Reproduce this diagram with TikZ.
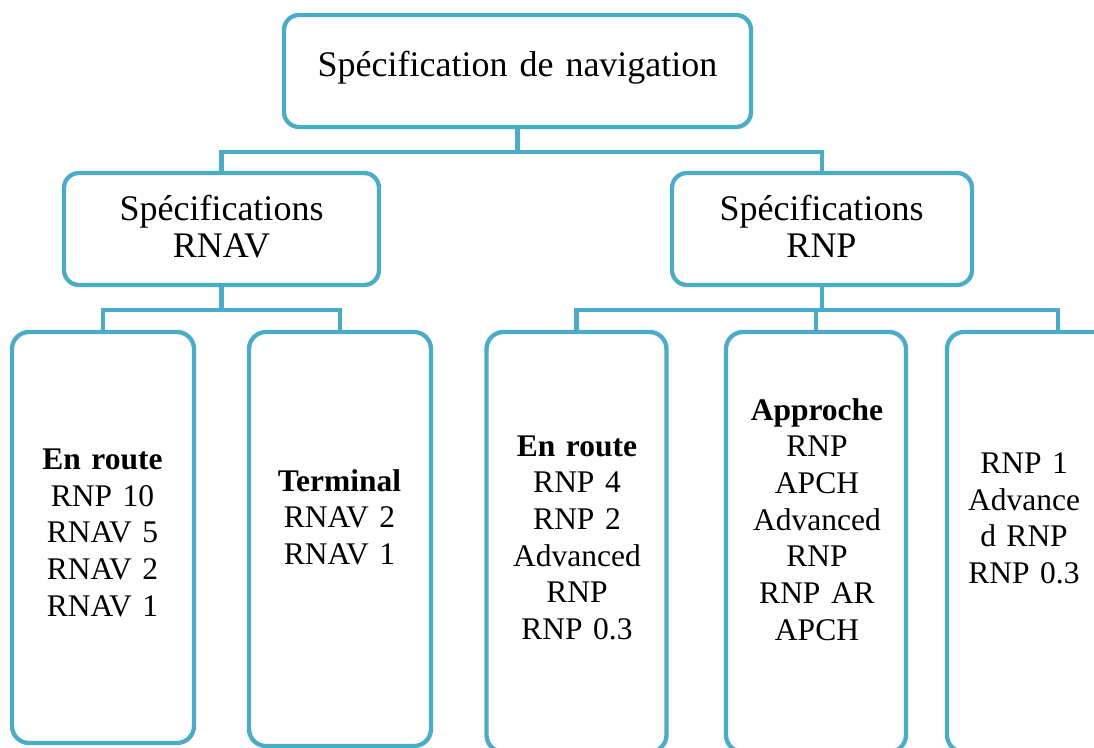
\documentclass[tikz,border=0pt]{standalone}
\usepackage{fontspec}
\setmainfont{Liberation Serif}
\definecolor{boxline}{RGB}{75,172,198}
\begin{document}
\begin{tikzpicture}[x=1pt,y=-1pt,
  box/.style={draw=boxline, line width=4.3pt, fill=white, rectangle,
    inner sep=0pt, rounded corners=15pt},
  tallbox/.style={box, rounded corners=17pt},
  conn/.style={draw=boxline, line width=4.3pt},
  headtext/.style={inner sep=0pt, anchor=base, text width=460pt, align=center,
    font=\fontsize{36}{37.7}\selectfont},
  itemtext/.style={inner sep=0pt, anchor=base, text width=170pt, align=center,
    font=\fontsize{31.5}{36.7}\selectfont}]
\useasboundingbox (0,0) rectangle (1094,747);
\clip (0,0) rectangle (1094,747);

% boxes
\node[box, minimum width=467pt, minimum height=112pt] (top) at (517.5,71) {};
\node[box, minimum width=315pt, minimum height=112pt] (rnav) at (221.5,229) {};
\node[box, minimum width=300pt, minimum height=112pt] (rnp) at (822,229) {};
\node[tallbox, minimum width=182pt, minimum height=411pt] (b1) at (103,537.5) {};
\node[tallbox, minimum width=182pt, minimum height=414pt] (b2) at (340,539) {};
\node[tallbox, minimum width=180pt, minimum height=420pt] (b3) at (576.5,542) {};
\node[tallbox, minimum width=180pt, minimum height=420pt] (b4) at (816,542) {};
\node[tallbox, minimum width=222pt, minimum height=420pt] (b5) at (1058,542) {};

% connectors
\draw[conn] (top.south) -- ++(0,23) -| (rnav.north);
\draw[conn] (top.south) -- ++(0,23) -| (rnp.north);
\draw[conn] (rnav.south) -- ++(0,23) -| (b1.north);
\draw[conn] (rnav.south) -- ++(0,23) -| (b2.north);
\draw[conn] (rnp.south) -- ++(0,23) -| (b3.north);
\draw[conn] (rnp.south) -- ++(0,23) -| (b4.north);
\draw[conn] (rnp.south) -- ++(0,23) -| (b5.north);

% texts
\node[headtext] (ttop) at (517.5,76.7) {Spécification de navigation};
\node[headtext] (trnav) at (221.5,220) {Spécifications\\RNAV};
\node[headtext] (trnp) at (821.5,220) {Spécifications\\RNP};
\node[itemtext] (t1) at (102.5,469.3) {\textbf{En route}\\RNP 10\\RNAV 5\\RNAV 2\\RNAV 1};
\node[itemtext] (t2) at (339.5,491) {\textbf{Terminal}\\RNAV 2\\RNAV 1};
\node[itemtext] (t3) at (577,456) {\textbf{En route}\\RNP 4\\RNP 2\\Advanced\\RNP\\RNP 0.3};
\node[itemtext] (t4) at (817,420) {\textbf{Approche}\\RNP\\APCH\\Advanced\\RNP\\RNP AR\\APCH};
\node[itemtext] (t5) at (1024,473.3) {RNP 1\\Advance\\d RNP\\RNP 0.3};
\end{tikzpicture}
\end{document}
